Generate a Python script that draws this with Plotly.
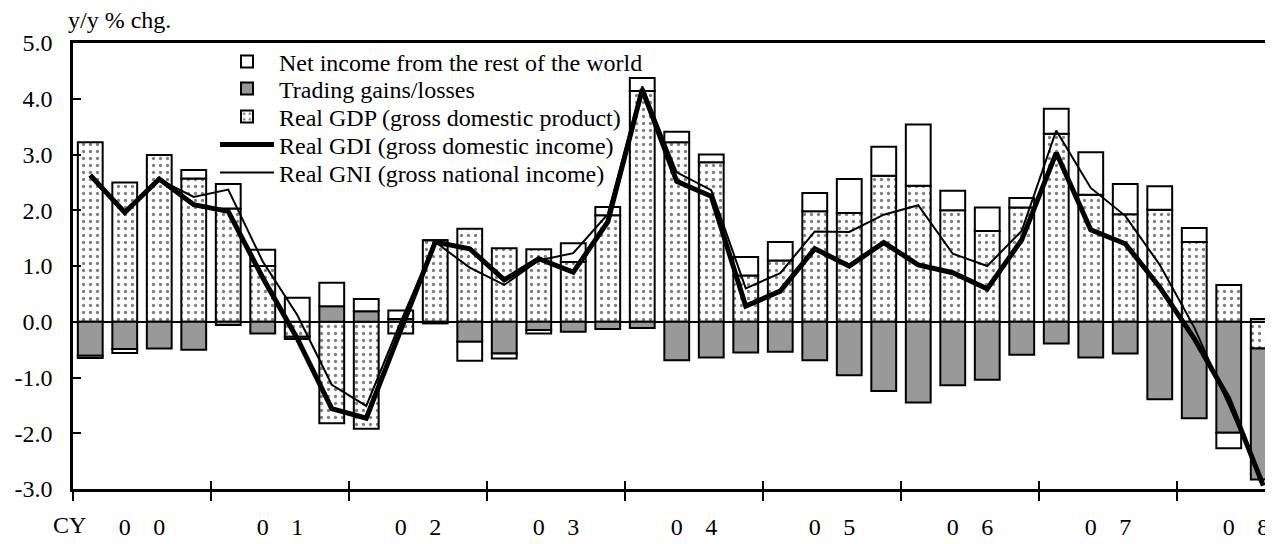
import plotly.graph_objects as go

# ---------------- data (y/y % change, CY2000Q1 - CY2008Q3) ----------------
quarters = [f"{y}Q{q}" for y in range(2000, 2009) for q in range(1, 5)][:35]

real_gdp = [3.22, 2.50, 2.99, 2.57,
            2.03, 1.00, -0.27, -1.82,
            -1.92, -0.21, 1.46, 1.67,
            1.32, 1.30, 1.07, 1.91,
            4.14, 3.22, 2.86, 0.83,
            1.10, 1.98, 1.95, 2.62,
            2.44, 2.00, 1.63, 2.05,
            3.37, 2.28, 1.93, 2.01,
            1.43, 0.66, -0.48]

trading_gains = [-0.61, -0.49, -0.48, -0.50,
                 -0.06, -0.21, -0.04, 0.28,
                 0.19, 0.05, -0.03, -0.36,
                 -0.57, -0.15, -0.18, -0.13,
                 -0.11, -0.69, -0.64, -0.55,
                 -0.54, -0.69, -0.96, -1.24,
                 -1.45, -1.14, -1.04, -0.59,
                 -0.39, -0.64, -0.57, -1.39,
                 -1.73, -1.99, -2.35]

net_income = [-0.04, -0.07, 0.00, 0.15,
              0.44, 0.29, 0.43, 0.42,
              0.22, 0.15, 0.00, -0.34,
              -0.09, -0.06, 0.34, 0.15,
              0.23, 0.19, 0.14, 0.33,
              0.33, 0.33, 0.61, 0.52,
              1.10, 0.35, 0.42, 0.17,
              0.45, 0.76, 0.54, 0.42,
              0.25, -0.28, 0.05]

real_gdi = [2.63, 1.96, 2.56, 2.10,
            1.98, 0.79, -0.30, -1.56,
            -1.73, -0.16, 1.43, 1.31,
            0.75, 1.13, 0.89, 1.79,
            4.17, 2.52, 2.25, 0.28,
            0.55, 1.31, 1.00, 1.42,
            1.02, 0.88, 0.59, 1.47,
            3.03, 1.65, 1.40, 0.62,
            -0.30, -1.38, -2.94]

real_gni = [2.60, 1.93, 2.55, 2.24,
            2.37, 1.08, 0.12, -1.13,
            -1.51, 0.00, 1.43, 0.97,
            0.66, 1.10, 1.23, 1.93,
            4.22, 2.68, 2.36, 0.60,
            0.87, 1.62, 1.61, 1.92,
            2.09, 1.22, 1.00, 1.63,
            3.43, 2.40, 1.90, 1.02,
            -0.10, -1.48, -2.88]

year_labels = ["00", "01", "02", "03", "04", "05", "06", "07", "08"]
y_tick_values = [-3, -2, -1, 0, 1, 2, 3, 4, 5]
y_tick_labels = ["-3.0", "-2.0", "-1.0", "0.0", "1.0", "2.0", "3.0", "4.0", "5.0"]

# ---------------- derived positions ----------------
x = list(range(len(quarters)))
digit_vals, digit_text = [], []
for k, lab in enumerate(year_labels):
    digit_vals += [4 * k + 1, 4 * k + 2]
    digit_text += [lab[0], lab[1]]
year_bounds = [4 * k - 0.5 for k in range(len(year_labels))]

FONT = "Liberation Serif, Times New Roman, serif"
FS = 24
BAR_W = 0.72
OUTLINE = dict(color="black", width=2)
ITEM_W = 54

fig = go.Figure()
fig.add_trace(go.Bar(
    x=x, y=real_gdp, name="Real GDP (gross domestic product)", width=BAR_W,
    marker=dict(color="white", line=OUTLINE,
                pattern=dict(shape=".", fgcolor="black", bgcolor="white",
                             size=7, solidity=0.17)),
    legend="legend3"))
fig.add_trace(go.Bar(
    x=x, y=trading_gains, name="Trading gains/losses", width=BAR_W,
    marker=dict(color="#999999", line=OUTLINE), legend="legend2"))
fig.add_trace(go.Bar(
    x=x, y=net_income, name="Net income from the rest of the world", width=BAR_W,
    marker=dict(color="white", line=OUTLINE), legend="legend"))
fig.add_trace(go.Scatter(
    x=x, y=real_gdi, mode="lines", name="Real GDI (gross domestic income)",
    line=dict(color="black", width=5), legend="legend4"))
fig.add_trace(go.Scatter(
    x=x, y=real_gni, mode="lines", name="Real GNI (gross national income)",
    line=dict(color="black", width=2), legend="legend5"))
# invisible companion trace so the overlaying tick axis is drawn
fig.add_trace(go.Scatter(
    x=x, y=real_gdi, xaxis="x2", yaxis="y", mode="lines",
    line=dict(width=0, color="rgba(0,0,0,0)"), showlegend=False, hoverinfo="skip"))

# page body adds an 8 px offset; plot area (window px): left 73, top 43, bottom 489
L, T, B = 65, 35, 63
plot_w = 1273 - L
x_range = [-0.5, -0.5 + plot_w / 34.5]
plot_h = 544 - T - B

def leg(yc_px):
    return dict(x=(207 - L) / plot_w, y=(544 - B - yc_px) / plot_h,
                xanchor="left", yanchor="middle", bgcolor="rgba(0,0,0,0)",
                itemwidth=ITEM_W, font=dict(family=FONT, size=FS))

fig.update_layout(
    width=1273, height=544,
    margin=dict(l=L, r=0, t=T, b=B),
    paper_bgcolor="white", plot_bgcolor="white",
    barmode="relative",
    font=dict(family=FONT, size=FS, color="black"),
    showlegend=True,
    legend=leg(54), legend2=leg(81), legend3=leg(109), legend4=leg(137), legend5=leg(165),
    xaxis=dict(range=x_range, showline=True, linecolor="black", linewidth=2.5,
               mirror=True, showgrid=False, zeroline=False,
               tickmode="array", tickvals=digit_vals, ticktext=digit_text,
               ticks="", ticklabelstandoff=14,
               minor=dict(tickmode="array", tickvals=year_bounds, ticks="outside",
                          ticklen=9, tickwidth=2, tickcolor="black", showgrid=False)),
    xaxis2=dict(range=x_range, overlaying="x", anchor="y", side="bottom",
                showline=False, showgrid=False, zeroline=False,
                tickmode="array", tickvals=year_bounds, ticks="inside",
                ticklen=8, tickwidth=2, tickcolor="black", showticklabels=False),
    yaxis=dict(range=[-3, 5], showline=True, linecolor="black", linewidth=2.5,
               showgrid=False, zeroline=True, zerolinecolor="black", zerolinewidth=2,
               tickmode="array", tickvals=y_tick_values, ticktext=y_tick_labels,
               ticks="inside", ticklen=8, tickwidth=2, tickcolor="black",
               ticklabelstandoff=13),
    annotations=[
        dict(text="y/y % chg.", xref="paper", yref="paper", x=(58 - L) / plot_w,
             y=(544 - B - 12) / plot_h, xanchor="left", yanchor="middle",
             showarrow=False, font=dict(family=FONT, size=FS)),
        dict(text="CY", xref="paper", yref="paper", x=(61 - L) / plot_w,
             y=(544 - B - 517) / plot_h, xanchor="center", yanchor="middle",
             showarrow=False, font=dict(family=FONT, size=FS)),
    ],
)

fig.write_html("out.html")
